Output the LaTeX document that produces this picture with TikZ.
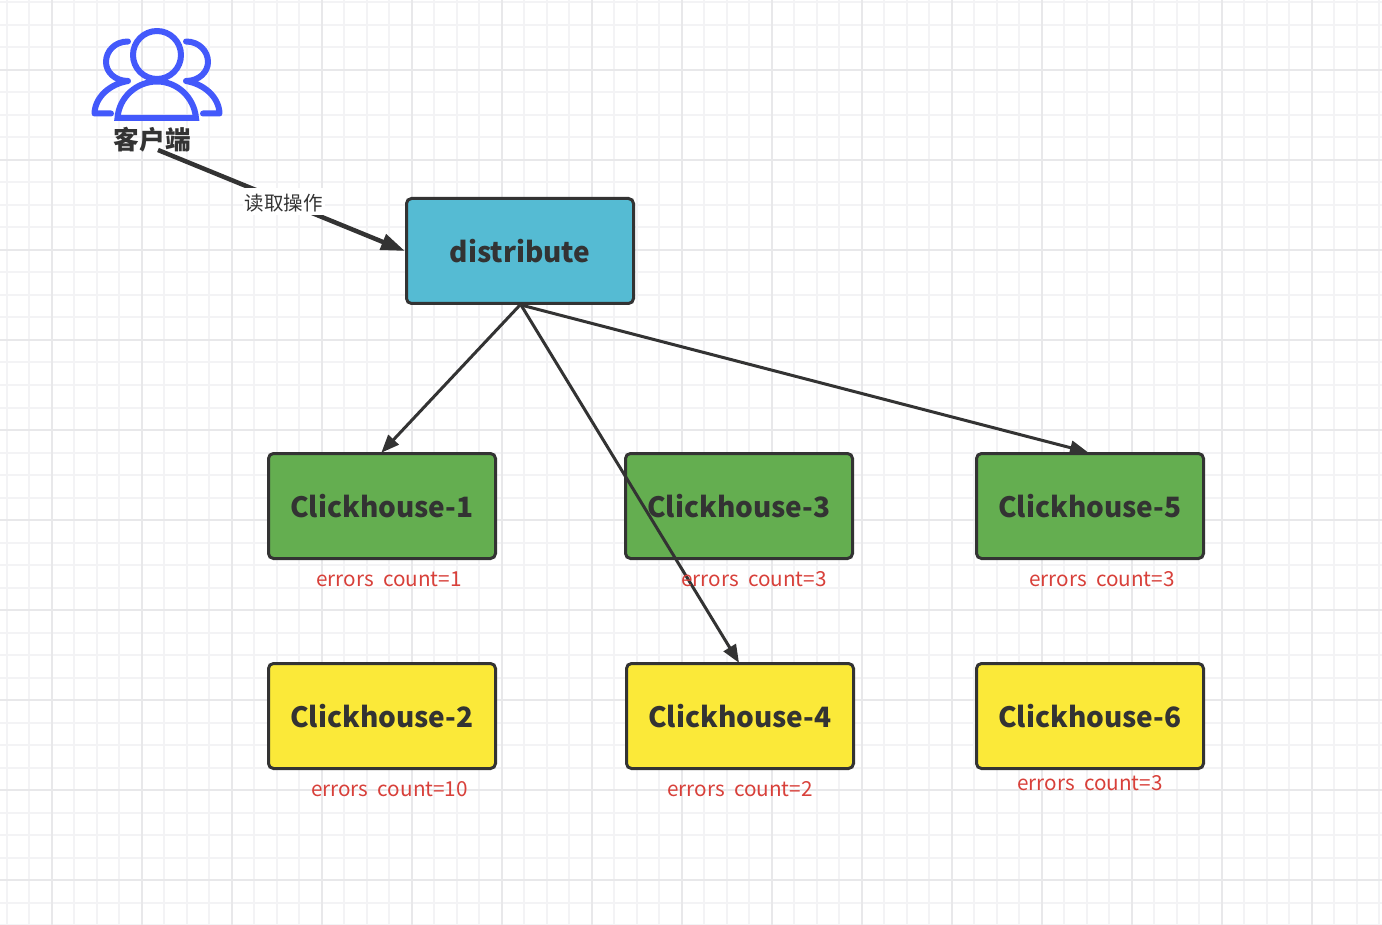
\documentclass[tikz,border=0pt]{standalone}
\usepackage{fontspec}
\setmainfont{Noto Sans CJK SC}
\usetikzlibrary{arrows.meta}
\definecolor{ink}{HTML}{333333}
\definecolor{gridminor}{HTML}{F3F3F5}
\definecolor{gridmajor}{HTML}{E8E8EA}
\definecolor{iconblue}{HTML}{4359FB}
\definecolor{boxblue}{HTML}{55BBD3}
\definecolor{boxgreen}{HTML}{64AE50}
\definecolor{boxyellow}{HTML}{FBE939}
\definecolor{errred}{HTML}{D8403A}
\tikzset{
  x=1pt,y=-1pt,
  chbox/.style={draw=ink,line width=3pt,rounded corners=5pt,minimum width=227pt,minimum height=105pt,inner sep=0pt,text=ink,text height=23.5pt,text depth=0pt,font=\fontsize{28}{28}\selectfont\bfseries},
  errtext/.style={text=errred,inner sep=0pt,font=\fontsize{20.7}{21}\selectfont},
  conn/.style={draw=ink,line width=3pt,-{Triangle[length=18pt,width=14pt]},shorten >=-1pt},
  connthick/.style={draw=ink,line width=4.5pt,-{Triangle[length=24pt,width=16pt]}},
  iconline/.style={draw=iconblue,line width=6pt,line cap=round,line join=round},
}
\begin{document}
\begin{tikzpicture}
\useasboundingbox (0,0) rectangle (1382,925);
\fill[white] (0,0) rectangle (1382,925);
\foreach \i in {0,...,61} {\draw[gridminor,line width=2pt] ({6.5+22.5*\i},0) -- ({6.5+22.5*\i},925);}
\foreach \i in {0,...,41} {\draw[gridminor,line width=2pt] (0,{2.5+22.5*\i}) -- (1382,{2.5+22.5*\i});}
\foreach \i in {0,...,15} {\draw[gridmajor,line width=2pt] ({51.5+90*\i},0) -- ({51.5+90*\i},925);}
\foreach \i in {0,...,9} {\draw[gridmajor,line width=2pt] (0,{70+90*\i}) -- (1382,{70+90*\i});}

% client icon
\draw[iconline] (157,55) circle (24);
\draw[iconline,line cap=butt,line join=miter] (117.5,118) .. controls (119,97) and (137,81.5) .. (157,81.5) .. controls (177,81.5) and (194,97) .. (196,118) -- cycle;
\draw[iconline] (128,41.5) .. controls (115,41.5) and (106,51) .. (106,62) .. controls (106,72) and (115,81) .. (128,81) .. controls (110,84) and (95,97) .. (94.5,113.5) -- (111,113.5);
\draw[iconline] (186,41.5) .. controls (199,41.5) and (208,51) .. (208,62) .. controls (208,72) and (199,81) .. (186,81) .. controls (204,84) and (219,97) .. (219.5,113.5) -- (203,113.5);
\node[text=ink,inner sep=0pt,font=\fontsize{25.7}{26}\selectfont\bfseries] (client) at (152.5,139.5) {客户端};
\coordinate (clientfoot) at (158,150);

% boxes
\node[chbox,fill=boxblue] (dist) at (520,251) {distribute};
\node[chbox,fill=boxgreen] (c1) at (382,506) {Clickhouse-1};
\node[chbox,fill=boxgreen] (c3) at (739,506) {Clickhouse-3};
\node[chbox,fill=boxgreen] (c5) at (1090,506) {Clickhouse-5};
\node[chbox,fill=boxyellow] (c2) at (382,716) {Clickhouse-2};
\node[chbox,fill=boxyellow] (c4) at (740,716) {Clickhouse-4};
\node[chbox,fill=boxyellow] (c6) at (1090,716) {Clickhouse-6};

% connectors
\draw[connthick] (clientfoot) -- (dist.west);
\node[fill=white,text=ink,inner sep=0pt,minimum width=82pt,text height=23pt,text depth=4pt,font=\fontsize{19.5}{20}\selectfont] (readlabel) at (283.5,201.5) {读取操作};
\draw[conn] (dist.south) -- (c1.north);
\draw[conn] ([xshift=1pt]dist.south) -- ([xshift=-1.5pt]c4.north);
\draw[conn] ([xshift=1pt]dist.south) -- ([xshift=-3pt]c5.north);

% error labels
\node[errtext] (e1) at (389,579.5) {errors\ \ count=1};
\node[errtext] (e3) at (754,579.5) {errors\ \ count=3};
\node[errtext] (e5) at (1102,579.5) {errors\ \ count=3};
\node[errtext] (e2) at (389.5,789.5) {errors\ \ count=10};
\node[errtext] (e4) at (740,789.5) {errors\ \ count=2};
\node[errtext] (e6) at (1090,783.5) {errors\ \ count=3};
\end{tikzpicture}
\end{document}
